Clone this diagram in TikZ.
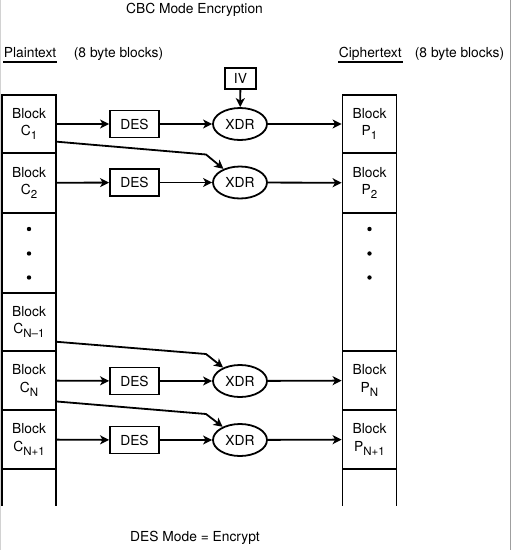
\documentclass[tikz,border=0pt]{standalone}
\usepackage{fontspec}
\setmainfont{TeX Gyre Heros}
\usetikzlibrary{arrows.meta,shapes.geometric}
\newcommand\blksub[1]{\raisebox{-0.5ex}{\fontsize{11.5}{11.5}\selectfont #1}}

\begin{document}
\begin{tikzpicture}[x=1pt,y=-1pt,line width=1.8pt,
   every node/.style={font=\fontsize{13.8}{17.5}\selectfont},
   cell/.style={draw,align=center,minimum width=54pt,inner sep=0pt},
   desbox/.style={draw,minimum width=49pt,minimum height=27pt,inner sep=0pt},
   xdr/.style={draw,ellipse,minimum width=54pt,minimum height=32pt,inner sep=0pt},
   arr/.style={-{Stealth[length=9pt,width=9pt,inset=2.5pt]}}]
   \useasboundingbox (0,0) rectangle (512,550);
   \draw[gray!35,line width=1pt] (0.5,0) -- (0.5,550);
   \draw[gray!75,line width=1pt] (510,0) -- (510,550);
   % headings
   \node[anchor=base] (title) at (194.5,13) {CBC Mode Encryption};
   \node[anchor=base west,inner sep=0pt] (plain) at (3,57) {Plaintext};
   \node[anchor=base west,inner sep=0pt] (plainsz) at (73,57) {(8 byte blocks)};
   \node[anchor=base west,inner sep=0pt] (ciph) at (338,57) {Ciphertext};
   \node[anchor=base west,inner sep=0pt] (ciphsz) at (414,57) {(8 byte blocks)};
   \draw[line width=1.5pt] ([yshift=-5pt]plain.base west) -- ([yshift=-5pt]plain.base east);
   \draw[line width=1.5pt] ([yshift=-5pt]ciph.base west) -- ([yshift=-5pt]ciph.base east);
   \node[anchor=base] (mode) at (195,541) {DES Mode = Encrypt};
   % plaintext column
   \node[cell,minimum height=58pt] (c1) at (29,124) {Block\\C\blksub{1}};
   \node[cell,minimum height=59.7pt] (c2) at (29,182.8) {Block\\C\blksub{2}};
   \node[cell,minimum height=80pt] (cdots) at (29,252.7) {};
   \node[cell,minimum height=58.3pt] (cm) at (29,321.8) {Block\\C\blksub{N--1}};
   \node[cell,minimum height=59pt] (cn) at (29,380.5) {Block\\C\blksub{N}};
   \node[cell,minimum height=59pt] (cp) at (29,439.5) {Block\\C\blksub{N+1}};
   \draw (2,469) -- (2,506);
   \draw (56,469) -- (56,506);
   \fill (29,229) circle (2.2);
   \fill (29,253.5) circle (2.2);
   \fill (29,277.5) circle (2.2);
   % ciphertext column
   \node[cell,minimum height=58pt] (p1) at (369.5,124) {Block\\P\blksub{1}};
   \node[cell,minimum height=59.7pt] (p2) at (369.5,182.8) {Block\\P\blksub{2}};
   \node[cell,minimum height=138.3pt] (pdots) at (369.5,281.8) {};
   \node[cell,minimum height=59pt] (pn) at (369.5,380.5) {Block\\P\blksub{N}};
   \node[cell,minimum height=59pt] (pp) at (369.5,439.5) {Block\\P\blksub{N+1}};
   \draw (342.5,469) -- (342.5,506);
   \draw (396.5,469) -- (396.5,506);
   \fill (369.5,229) circle (2.2);
   \fill (369.5,253.5) circle (2.2);
   \fill (369.5,277.5) circle (2.2);
   % DES and XDR
   \node[desbox] (des1) at (134.5,124) {DES};
   \node[desbox] (des2) at (134.5,182.5) {DES};
   \node[desbox] (desn) at (134.5,381) {DES};
   \node[desbox] (desp) at (134.5,440) {DES};
   \node[xdr] (x1) at (240,124) {XDR};
   \node[xdr] (x2) at (240,182.5) {XDR};
   \node[xdr] (xn) at (240,381) {XDR};
   \node[xdr] (xp) at (240,440) {XDR};
   \node[draw,minimum width=31pt,minimum height=21pt,inner sep=0pt] (iv) at (240.5,78.7) {IV};
   \coordinate (k1) at (206,154.5);
   \coordinate (km) at (206,354);
   \coordinate (kn) at (206,414);
   % connectors
   \draw[arr] (iv) -- (x1);
   \draw[arr] (c1) -- (des1);
   \draw[arr] (des1) -- (x1);
   \draw[arr] (x1) -- (p1);
   \draw[arr] (c2) -- (des2);
   \draw[arr] (des2) -- (x2);
   \draw[arr] (x2) -- (p2);
   \draw[arr] (cn) -- (desn);
   \draw[arr] (desn) -- (xn);
   \draw[arr] (xn) -- (pn);
   \draw[arr] (cp) -- (desp);
   \draw[arr] (desp) -- (xp);
   \draw[arr] (xp) -- (pp);
   \draw[arr] ([yshift=-17.7pt]c1.east) -- (k1) -- (x2);
   \draw[arr] ([yshift=-20pt]cm.east) -- (km) -- (xn);
   \draw[arr] ([yshift=-21pt]cn.east) -- (kn) -- (xp);
\end{tikzpicture}
\end{document}
